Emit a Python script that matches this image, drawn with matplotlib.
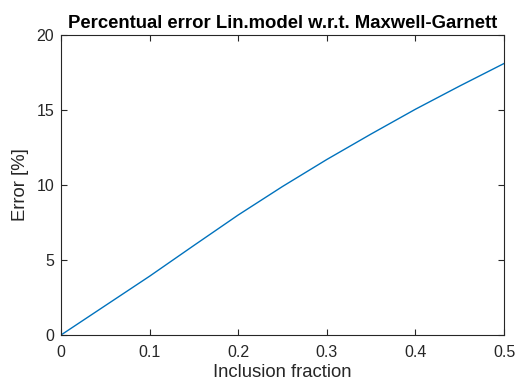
import matplotlib.pyplot as plt
import numpy as np

plt.rcParams['font.family'] = ['Liberation Sans', 'DejaVu Sans']

# values
fraction = [0.0, 0.05, 0.1, 0.15, 0.2, 0.25, 0.3, 0.35, 0.4, 0.45, 0.5]
error = [0.0, 1.96, 3.92, 5.97, 8.0, 9.9, 11.7, 13.4, 15.05, 16.6, 18.1]

xticks = [0, 0.1, 0.2, 0.3, 0.4, 0.5]
xticklabels = ['0', '0.1', '0.2', '0.3', '0.4', '0.5']
yticks = [0, 5, 10, 15, 20]

axcol = '#262626'

fig = plt.figure(figsize=(5.18, 3.85), dpi=100)
ax = fig.add_axes([0.1178, 0.1299, 0.8552, 0.7792])
ax.plot(fraction, error, color='#0072BD', lw=1.0)

ax.set_xlim(0, 0.5)
ax.set_ylim(0, 20)
ax.set_xticks(xticks)
ax.set_xticklabels(xticklabels)
ax.set_yticks(yticks)
ax.tick_params(direction='in', top=True, right=True, length=4, width=0.8,
               colors=axcol, labelsize=11.5)
ax.tick_params(axis='x', pad=7)
ax.tick_params(axis='y', pad=5)
for s in ax.spines.values():
    s.set_color(axcol)
    s.set_linewidth(0.8)

ax.set_xlabel('Inclusion fraction', fontsize=13.3, color=axcol, labelpad=3)
ax.set_ylabel('Error [%]', fontsize=13.3, color=axcol, labelpad=5)
ax.set_title('Percentual error Lin.model w.r.t. Maxwell-Garnett',
             fontsize=13.3, fontweight='bold', color='black', pad=5)

fig.savefig('out.png', dpi=100)
